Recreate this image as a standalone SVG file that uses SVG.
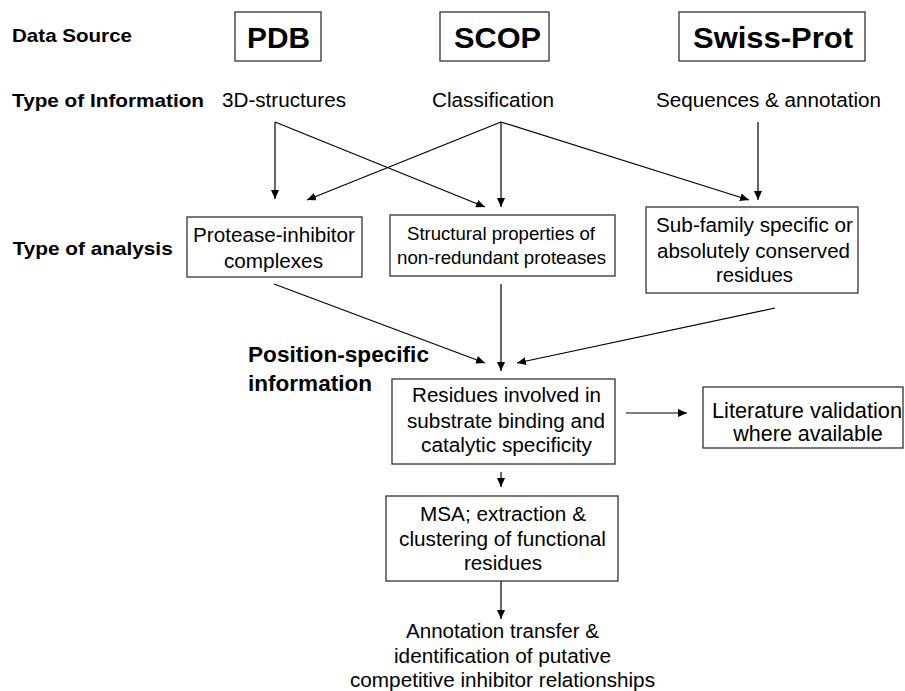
<svg xmlns="http://www.w3.org/2000/svg" width="905" height="691" viewBox="0 0 905 691">
<defs>
<marker id="ah" markerUnits="userSpaceOnUse" markerWidth="10" markerHeight="8" refX="9" refY="4" orient="auto">
<path d="M0,0 L9,4 L0,8 Z" fill="#000"/>
</marker>
<style>
.box{fill:#fff;stroke:#333;stroke-width:1.3}
.t{font-family:"Liberation Sans",Arial,Helvetica,sans-serif;font-size:20.5px;fill:#000}
.s{font-size:18.5px}
.l{font-size:21.5px}
.b{font-family:"Liberation Sans",Arial,Helvetica,sans-serif;font-weight:bold;font-size:19px;fill:#000}
.big{font-size:30px}
.ps{font-size:22.5px}
.c{fill:none;stroke:#000;stroke-width:1.2;marker-end:url(#ah)}
</style>
</defs>
<rect width="905" height="691" fill="#fff"/>
<g id="labels">
<text class="b" x="12" y="42" textLength="120" lengthAdjust="spacingAndGlyphs">Data Source</text>
<text class="b" x="12" y="107" textLength="192" lengthAdjust="spacingAndGlyphs">Type of Information</text>
<text class="b" x="12.7" y="255" textLength="160" lengthAdjust="spacingAndGlyphs">Type of analysis</text>
<text class="b ps" x="248" y="362" textLength="181" lengthAdjust="spacingAndGlyphs">Position-specific</text>
<text class="b ps" x="248" y="391" textLength="124" lengthAdjust="spacingAndGlyphs">information</text>
</g>
<g id="connectors">
<path class="c" d="M275,122 L275,199"/>
<path class="c" d="M275,122 L485,207"/>
<path class="c" d="M501,122 L307,200"/>
<path class="c" d="M501,122 L501,207"/>
<path class="c" d="M501,122 L749,200"/>
<path class="c" d="M758,122 L758,200"/>
<path class="c" d="M274,284 L485,363"/>
<path class="c" d="M501,284 L501,371"/>
<path class="c" d="M775,308 L517,363"/>
<path class="c" d="M626,413 L687,413"/>
<path class="c" d="M501,472 L501,487"/>
<path class="c" d="M501,581 L501,619"/>
</g>
<g id="pdb">
<rect class="box" x="235" y="12" width="86" height="49"/>
<text class="b big" x="247" y="48" textLength="63" lengthAdjust="spacingAndGlyphs">PDB</text>
</g>
<g id="scop">
<rect class="box" x="440" y="12" width="109" height="49"/>
<text class="b big" x="454" y="48" textLength="87" lengthAdjust="spacingAndGlyphs">SCOP</text>
</g>
<g id="swissprot">
<rect class="box" x="679" y="12" width="186" height="49"/>
<text class="b big" x="693" y="48" textLength="160" lengthAdjust="spacingAndGlyphs">Swiss-Prot</text>
</g>
<g id="info-3d">
<text class="t" x="222" y="107" textLength="124" lengthAdjust="spacingAndGlyphs">3D-structures</text>
</g>
<g id="info-class">
<text class="t" x="432" y="107" textLength="122" lengthAdjust="spacingAndGlyphs">Classification</text>
</g>
<g id="info-seq">
<text class="t" x="656" y="107" textLength="225" lengthAdjust="spacingAndGlyphs">Sequences &amp; annotation</text>
</g>
<g id="protease">
<rect class="box" x="187" y="217" width="175" height="60"/>
<text class="t" x="193" y="242" textLength="162" lengthAdjust="spacingAndGlyphs">Protease-inhibitor</text>
<text class="t" x="224" y="268" textLength="99" lengthAdjust="spacingAndGlyphs">complexes</text>
</g>
<g id="structural">
<rect class="box" x="390" y="215" width="225" height="61"/>
<text class="t s" x="407" y="240" textLength="188" lengthAdjust="spacingAndGlyphs">Structural properties of</text>
<text class="t s" x="397" y="264" textLength="209" lengthAdjust="spacingAndGlyphs">non-redundant proteases</text>
</g>
<g id="subfamily">
<rect class="box" x="646" y="207" width="212" height="86"/>
<text class="t" x="656" y="232" textLength="197" lengthAdjust="spacingAndGlyphs">Sub-family specific or</text>
<text class="t" x="657" y="258" textLength="193" lengthAdjust="spacingAndGlyphs">absolutely conserved</text>
<text class="t" x="716" y="282" textLength="77" lengthAdjust="spacingAndGlyphs">residues</text>
</g>
<g id="residues">
<rect class="box" x="392" y="379" width="223" height="85"/>
<text class="t" x="412" y="402" textLength="189" lengthAdjust="spacingAndGlyphs">Residues involved in</text>
<text class="t" x="407" y="428" textLength="198" lengthAdjust="spacingAndGlyphs">substrate binding and</text>
<text class="t" x="421" y="452" textLength="171" lengthAdjust="spacingAndGlyphs">catalytic specificity</text>
</g>
<g id="literature">
<rect class="box" x="703" y="387" width="200" height="61"/>
<text class="t l" x="712" y="418" textLength="190" lengthAdjust="spacingAndGlyphs">Literature validation</text>
<text class="t l" x="808" y="441" text-anchor="middle">where available</text>
</g>
<g id="msa">
<rect class="box" x="386" y="496" width="232" height="85"/>
<text class="t" x="420" y="521" textLength="166" lengthAdjust="spacingAndGlyphs">MSA; extraction &amp;</text>
<text class="t" x="399" y="546" textLength="207" lengthAdjust="spacingAndGlyphs">clustering of functional</text>
<text class="t" x="464" y="570" textLength="78" lengthAdjust="spacingAndGlyphs">residues</text>
</g>
<g id="annotation">
<text class="t" x="406" y="638" textLength="193" lengthAdjust="spacingAndGlyphs">Annotation transfer &amp;</text>
<text class="t" x="394" y="663" textLength="217" lengthAdjust="spacingAndGlyphs">identification of putative</text>
<text class="t" x="350" y="687" textLength="305" lengthAdjust="spacingAndGlyphs">competitive inhibitor relationships</text>
</g>
</svg>
